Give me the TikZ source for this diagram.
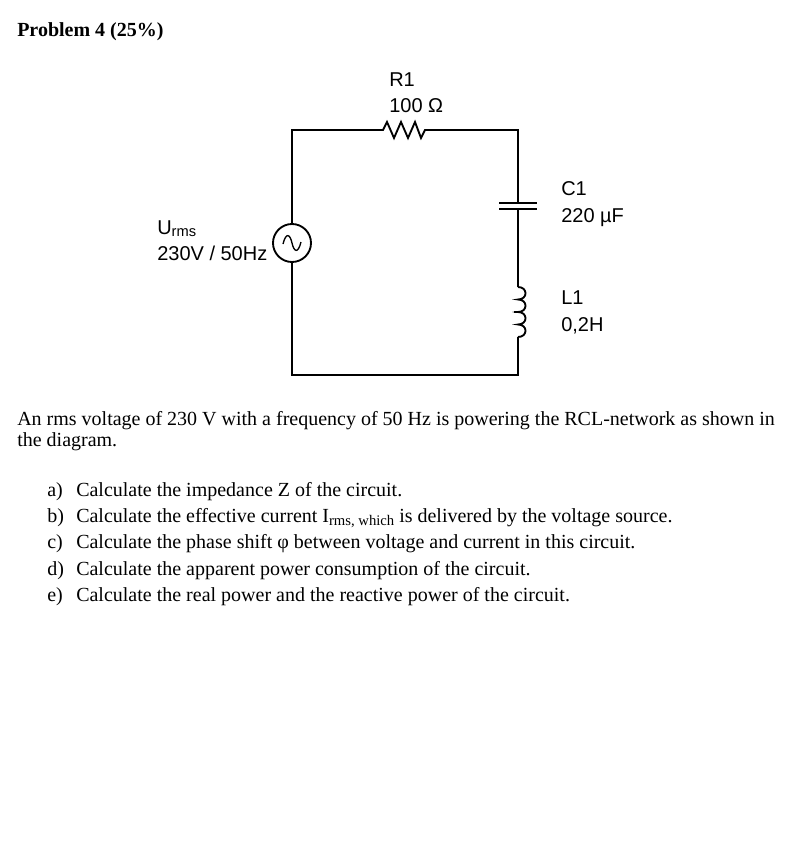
\documentclass[tikz,border=0pt]{standalone}
\usepackage{fontspec}
\setmainfont{Liberation Serif}
\newfontfamily\arial{Liberation Sans}
\begin{document}
\begin{tikzpicture}[x=0.75pt,y=-0.75pt,
  w/.style={line width=1.4pt},
  lab/.style={font=\arial\fontsize{15}{17}\selectfont,anchor=base west,inner sep=0},
  txt/.style={font=\fontsize{15}{17}\selectfont,anchor=base west,inner sep=0}]
\useasboundingbox (0,0) rectangle (791,867);
\fill[white] (0,0) rectangle (791,867);
\node[txt,font=\bfseries\fontsize{15}{17}\selectfont] (title) at (17,37) {Problem 4 (25\%)};
% circuit
\coordinate (tl) at (292,130); \coordinate (tr) at (518,130);
\coordinate (bl) at (292,375); \coordinate (br) at (518,375);
\node[draw,circle,w,minimum size=38pt*0.75,inner sep=0] (src) at (292,243) {};
\draw[w] (src.north) -- (tl) -- (383,130) -- (387,122) -- (394,138) -- (401,122) -- (408,138) -- (415,122) -- (421,138) -- (425,130) -- (tr) -- (518,203);
\draw[w] (src.south) -- (bl) -- (br) -- (518,337);
\draw[w] (499,203) -- (537,203) (499,209) -- (537,209);
\draw[w] (518,209) -- (518,287);
\draw[w] (518,287) foreach \k in {0,1,2,3} {.. controls (528,287+12.5*\k) and (528,299.5+12.5*\k) .. (518,299.5+12.5*\k)};
\draw[w] (518,299.5) -- (514,299.5) (518,312) -- (514,312) (518,324.5) -- (514,324.5);
\draw[line width=1pt] (283,244) .. controls (286,232) and (290,234) .. (292,243) .. controls (294,252) and (298,254) .. (301,242);
\node[lab] (r1) at (389,87) {R1};
\node[lab] (r1v) at (389,113) {100 Ω};
\node[lab] (c1) at (561,195) {C1};
\node[lab] (c1v) at (561,222) {220 µF};
\node[lab] (l1) at (561,304) {L1};
\node[lab] (l1v) at (561,331) {0,2H};
\node[lab] (u) at (157,234) {U\raisebox{-2pt}{\fontsize{11}{12}\selectfont rms}};
\node[lab] (uv) at (157,260) {230V / 50Hz};
% text
\node[txt] (p1) at (17,425) {An rms voltage of 230 V with a frequency of 50 Hz is powering the RCL-network as shown in};
\node[txt] (p2) at (17,446) {the diagram.};
\foreach \l/\t [count=\i] in {a)/{Calculate the impedance Z of the circuit.},
 b)/{Calculate the effective current I\raisebox{-2pt}{\fontsize{11}{12}\selectfont rms, which} is delivered by the voltage source.},
 c)/{Calculate the phase shift φ between voltage and current in this circuit.},
 d)/{Calculate the apparent power consumption of the circuit.},
 e)/{Calculate the real power and the reactive power of the circuit.}}{
  \node[txt] (l\i) at (47,470+26.3*\i) {\l};
  \node[txt] (t\i) at (76,470+26.3*\i) {\t};
}
\end{tikzpicture}
\end{document}
